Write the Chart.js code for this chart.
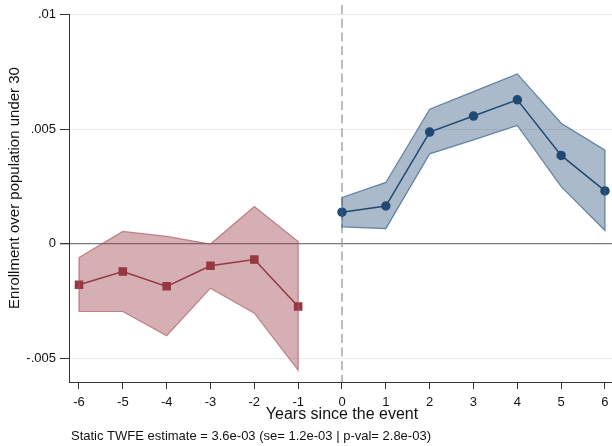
<!DOCTYPE html>
<html>
<head>
<meta charset="utf-8">
<script src="https://cdn.jsdelivr.net/npm/chart.js@4/dist/chart.umd.min.js"></script>
<style>
  html, body { margin: 0; padding: 0; background: #fff; }
  #wrap { width: 612px; height: 446px; position: relative; }
</style>
</head>
<body>
<div id="wrap"><canvas id="eventChart"></canvas></div>
<script>
// event time
const preYears = [-6, -5, -4, -3, -2, -1];
const postYears = [0, 1, 2, 3, 4, 5, 6];

// pre-period estimates and CI
const preEst = [-0.00179, -0.00121, -0.00186, -0.00096, -0.00069, -0.00274];
const preUpper = [-0.00060, 0.00054, 0.00032, -0.00001, 0.00163, 0.00010];
const preLower = [-0.00296, -0.00296, -0.00402, -0.00194, -0.00303, -0.00553];

// post-period estimates and CI
const postEst = [0.00138, 0.00165, 0.00488, 0.00558, 0.00629, 0.00386, 0.00231];
const postUpper = [0.00202, 0.00268, 0.00588, 0.00665, 0.00742, 0.00527, 0.00409];
const postLower = [0.00074, 0.00066, 0.00393, 0.00454, 0.00517, 0.00250, 0.00058];

// axis ticks
const xTicks = [-6, -5, -4, -3, -2, -1, 0, 1, 2, 3, 4, 5, 6];
const yTicks = [-0.005, 0, 0.005, 0.01];
const yTickLabels = ['-.005', '0', '.005', '.01'];

const FONT = '"Liberation Sans", Arial, sans-serif';

function pts(xs, ys) {
    return xs.map((x, i) => ({ x: x, y: ys[i] }));
}
// closed polygon: upper band, then lower band backwards
function band(xs, up, lo) {
    const p = pts(xs, up).concat(pts(xs, lo).reverse());
    p.push(p[0]);
    return p;
}

const redLine = '#953a44';
const blueLine = '#1f4a72';

// dashed line at event time + text under the plot
const extras = {
    id: 'extras',
    beforeDatasetsDraw(chart) {
        const ctx = chart.ctx;
        const x = chart.scales.x.getPixelForValue(0);
        ctx.save();
        ctx.strokeStyle = '#999';
        ctx.lineWidth = 1.3;
        ctx.setLineDash([9, 4.7]);
        ctx.beginPath();
        ctx.moveTo(x, 5);
        ctx.lineTo(x, chart.chartArea.bottom);
        ctx.stroke();
        ctx.restore();
    },
    afterDraw(chart) {
        const ctx = chart.ctx;
        ctx.save();
        ctx.fillStyle = '#111';
        ctx.textBaseline = 'middle';
        ctx.textAlign = 'center';
        ctx.font = '16px ' + FONT;
        ctx.fillText('Years since the event', 342, 415);
        ctx.textAlign = 'left';
        ctx.font = '13px ' + FONT;
        ctx.fillText('Static TWFE estimate = 3.6e-03 (se= 1.2e-03 | p-val= 2.8e-03)', 71, 436);
        ctx.translate(15, 188);
        ctx.rotate(-Math.PI / 2);
        ctx.textAlign = 'center';
        ctx.font = '15px ' + FONT;
        ctx.fillText('Enrollment over population under 30', 0, 0);
        ctx.restore();
    }
};

new Chart(document.getElementById('eventChart'), {
    type: 'line',
    data: {
        datasets: [
            {
                data: band(preYears, preUpper, preLower),
                fill: 'shape',
                backgroundColor: 'rgba(149,56,66,0.4)',
                borderColor: 'rgba(170,90,98,0.7)',
                borderWidth: 1.2,
                pointRadius: 0,
                tension: 0
            },
            {
                data: band(postYears, postUpper, postLower),
                fill: 'shape',
                backgroundColor: 'rgba(31,73,115,0.38)',
                borderColor: 'rgba(60,100,140,0.75)',
                borderWidth: 1.2,
                pointRadius: 0,
                tension: 0
            },
            {
                data: pts(preYears, preEst),
                borderColor: redLine,
                backgroundColor: redLine,
                borderWidth: 1.5,
                pointStyle: 'rect',
                pointRadius: 5,
                fill: false,
                clip: false
            },
            {
                data: pts(postYears, postEst),
                borderColor: blueLine,
                backgroundColor: blueLine,
                borderWidth: 1.5,
                pointStyle: 'circle',
                pointRadius: 4,
                fill: false,
                clip: false
            }
        ]
    },
    options: {
        responsive: true,
        maintainAspectRatio: false,
        animation: false,
        layout: { autoPadding: false, padding: { top: 14, right: 0, left: 0, bottom: 0 } },
        plugins: {
            legend: { display: false },
            tooltip: { enabled: false }
        },
        scales: {
            x: {
                type: 'linear',
                min: -6.228,
                max: 6.16,
                afterBuildTicks: s => { s.ticks = xTicks.map(v => ({ value: v })); },
                afterFit: s => { s.height = 64; s.paddingLeft = 0; s.paddingRight = 0; },
                ticks: {
                    color: '#111',
                    font: { family: FONT, size: 13 },
                    padding: 6,
                    maxRotation: 0,
                    autoSkip: false
                },
                grid: {
                    drawOnChartArea: false,
                    tickLength: 7,
                    tickColor: '#333'
                },
                border: { color: '#333', width: 1 }
            },
            y: {
                min: -0.00604,
                max: 0.01004,
                afterBuildTicks: s => { s.ticks = yTicks.map(v => ({ value: v })); },
                afterFit: s => { s.width = 69; },
                ticks: {
                    color: '#111',
                    font: { family: FONT, size: 13 },
                    padding: 4,
                    callback: (v) => yTickLabels[yTicks.indexOf(v)]
                },
                grid: {
                    color: ctx => (ctx.tick && ctx.tick.value === 0) ? '#7a7a7a' : '#ebebeb',
                    lineWidth: ctx => (ctx.tick && ctx.tick.value === 0) ? 1.3 : 1,
                    tickLength: 9,
                    tickColor: '#333'
                },
                border: { color: '#333', width: 1 }
            }
        }
    },
    plugins: [extras]
});
</script>
</body>
</html>
